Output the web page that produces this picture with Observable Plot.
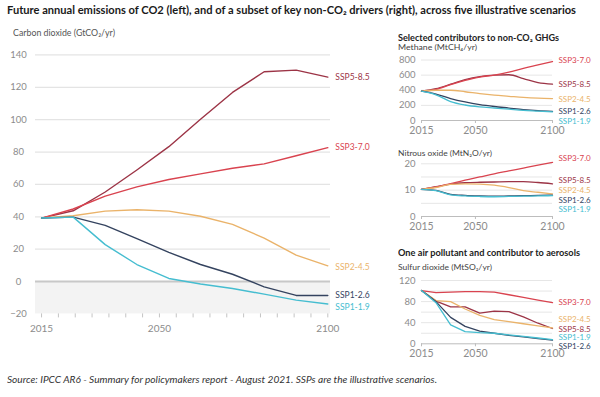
<!DOCTYPE html>
<html><head><meta charset="utf-8">
<script src="https://cdn.jsdelivr.net/npm/d3@7"></script>
<script src="https://cdn.jsdelivr.net/npm/@observablehq/plot@0.6"></script>
<style>
body{margin:0;background:#fff;}
#root{position:relative;width:600px;height:397px;overflow:hidden;font-family:Lato,"Noto Sans",sans-serif;}
.t{position:absolute;white-space:nowrap;line-height:1;transform-origin:0 50%;}
.p{position:absolute;}
</style></head><body><div id="root"></div>
<script>
// ---- categories ----
const scenarios = ["SSP1-1.9", "SSP1-2.6", "SSP2-4.5", "SSP3-7.0", "SSP5-8.5"];
const colors    = ["#45bdd0", "#34435f", "#eab36a", "#d9434f", "#9c3446"];
// model years, drawn evenly spaced in the reference (read positions)
const years = [2015, 2024.4, 2033.9, 2043.3, 2052.8, 2062.2, 2071.7, 2081.1, 2090.6, 2100];

// ---- CO2 (GtCO2/yr) ----
const co2_119 = [39.2, 39.8, 22.8, 10.5, 1.9, -1.5, -4.3, -7.8, -11.5, -13.9];
const co2_126 = [39.2, 39.8, 34.7, 26.5, 18.0, 10.5, 4.5, -3.3, -8.6, -8.6];
const co2_245 = [39.2, 40.6, 43.5, 44.3, 43.5, 40.3, 35.3, 26.8, 16.3, 9.7];
const co2_370 = [39.2, 44.8, 52.8, 58.5, 63.0, 66.5, 70.0, 72.7, 77.7, 82.7];
const co2_585 = [39.2, 43.7, 55.3, 68.9, 83.3, 100.3, 116.8, 129.6, 130.6, 126.3];

// ---- Methane (MtCH4/yr) ----
const ch4_119 = [388, 340, 250, 205, 180, 165, 150, 135, 125, 115];
const ch4_126 = [388, 350, 290, 245, 210, 185, 165, 145, 130, 120];
const ch4_245 = [388, 400, 400, 380, 355, 335, 320, 305, 295, 290];
const ch4_370 = [388, 410, 475, 530, 575, 600, 640, 690, 735, 780];
const ch4_585 = [388, 420, 480, 540, 580, 600, 605, 555, 500, 480];

// ---- Nitrous oxide (MtN2O/yr) ----
const n2o_119 = [10.3, 9.8, 8.2, 7.8, 7.6, 7.5, 7.6, 7.7, 7.8, 7.9];
const n2o_126 = [10.3, 9.9, 8.4, 8.0, 7.8, 7.7, 7.8, 7.9, 8.0, 8.1];
const n2o_245 = [10.3, 11.0, 12.2, 12.4, 12.3, 11.9, 11.0, 9.8, 9.2, 8.6];
const n2o_370 = [10.3, 11.2, 12.5, 13.8, 15.0, 16.2, 17.3, 18.4, 19.5, 20.5];
const n2o_585 = [10.3, 11.3, 12.3, 12.8, 13.0, 13.1, 13.2, 13.2, 12.9, 12.4];

// ---- Sulfur dioxide (MtSO2/yr) ----
const so2_119 = [101, 78, 36, 23, 21, 20, 17, 14, 11, 8];
const so2_126 = [101, 80, 50, 33, 24, 20, 16, 13, 10, 7];
const so2_245 = [101, 82, 80, 66, 54, 46, 42, 38, 34, 30];
const so2_370 = [101, 97, 98, 99, 99, 98, 93, 88, 83, 78];
const so2_585 = [101, 81, 70, 70, 58, 62, 61, 51, 39, 29];

// ---- tick labels ----
const co2Ticks = [-20, 0, 20, 40, 60, 80, 100, 120, 140];
const co2Grid = [20, 40, 60, 80, 100, 120, 140];
const co2MinorYears = [2015,2020,2025,2030,2035,2040,2045,2050,2055,2060,2065,2070,2075,2080,2085,2090,2095,2100];
const yearLabels = [2015, 2050, 2100];
const ch4Ticks = [0, 200, 400, 600, 800];
const ch4Grid = [200, 400, 600, 800];
const n2oTicks = [0, 10, 20];
const n2oGrid = [5, 10, 15, 20];
const so2Ticks = [0, 40, 80, 120];
const so2Grid = [20, 40, 60, 80, 100, 120];

function rows(series) {
  return scenarios.flatMap((s, i) => years.map((yr, j) => ({scenario: s, year: yr, value: series[i][j]})));
}
const co2Rows = rows([co2_119, co2_126, co2_245, co2_370, co2_585]);
const ch4Rows = rows([ch4_119, ch4_126, ch4_245, ch4_370, ch4_585]);
const n2oRows = rows([n2o_119, n2o_126, n2o_245, n2o_370, n2o_585]);
const so2Rows = rows([so2_119, so2_126, so2_245, so2_370, so2_585]);

const root = document.getElementById("root");
const color = {domain: scenarios, range: colors};
const drawOrder = ["SSP5-8.5", "SSP3-7.0", "SSP2-4.5", "SSP1-2.6", "SSP1-1.9"];

function endLabels(data, offsets, dx, size) {
  return scenarios.map(s => Plot.text(data.filter(d => d.scenario === s && d.year === 2100), {
    x: "year", y: "value", text: "scenario", fill: "scenario",
    dx, dy: offsets[s], textAnchor: "start", fontSize: size
  }));
}
function lines(data, width, curve) {
  return drawOrder.map(s => Plot.line(data.filter(d => d.scenario === s), {
    x: "year", y: "value", stroke: "scenario", strokeWidth: width, curve
  }));
}

// ---- main CO2 chart ----
const xDom = [2013.2, 2100.8];
const band = [{lo: -20, hi: 0}];
const main = Plot.plot({
  width: 380, height: 300,
  marginLeft: 35, marginRight: 50, marginTop: 14.4, marginBottom: 26.6,
  x: {domain: xDom}, y: {domain: [-20, 140]}, color,
  style: {fontFamily: "Lato, sans-serif", fontSize: "9px", color: "#8c8c8c", background: "transparent", overflow: "visible"},
  marks: [
    Plot.rect(band, {x1: () => xDom[0], x2: () => xDom[1], y1: "lo", y2: "hi", fill: "#f3f3f3"}),
    Plot.gridY(co2Grid, {stroke: "#e4e4e4", strokeOpacity: 1, strokeWidth: 1.2}),
    Plot.ruleY([0], {stroke: "#c8c8c8", strokeWidth: 2}),
    Plot.axisY({ticks: co2Ticks, tickSize: 0, tickPadding: 17, textAnchor: "middle", fill: "#8c8c8c", fontSize: 9.5, label: null}),
    Plot.axisX({ticks: co2MinorYears, tickSize: 4, tickFormat: () => "", stroke: "#c4c4c4", label: null}),
    Plot.axisX({ticks: yearLabels, tickSize: 0, tickPadding: 11, tickFormat: d => String(d), fill: "#8c8c8c", fontSize: 10, label: null}),
    ...lines(co2Rows, 1.4, "linear"),
    ...endLabels(co2Rows, {"SSP5-8.5": 0, "SSP3-7.0": 0, "SSP2-4.5": 1, "SSP1-2.6": 0, "SSP1-1.9": 3}, 7.5, 8.5)
  ]
});
const mdiv = document.createElement("div");
mdiv.className = "p"; mdiv.style.left = "0px"; mdiv.style.top = "40px";
mdiv.appendChild(main); root.appendChild(mdiv);

// ---- small panels ----
function panel({data, top, height, mTop, mBottom, yDomain, ticks, grid, offsets, curve}) {
  const chart = Plot.plot({
    width: 220, height, marginLeft: 41, marginRight: 48, marginTop: mTop, marginBottom: mBottom,
    x: {domain: [2015, 2100]}, y: {domain: yDomain}, color,
    style: {fontFamily: "Lato, sans-serif", fontSize: "9px", color: "#8c8c8c", background: "transparent", overflow: "visible"},
    marks: [
      Plot.gridY(grid, {stroke: "#e6e6e6", strokeOpacity: 1, strokeWidth: 1}),
      Plot.ruleY([0], {stroke: "#bdbdbd", strokeWidth: 1}),
      Plot.axisY({ticks, tickSize: 0, tickPadding: 6, fill: "#8c8c8c", fontSize: 9.5, label: null}),
      Plot.axisX({ticks: yearLabels, tickSize: 3, tickPadding: 3, stroke: "#bdbdbd", tickFormat: d => String(d), fill: "#8c8c8c", fontSize: 10.5, label: null}),
      ...lines(data, 1.3, curve),
      ...endLabels(data, offsets, 6, 8)
    ]
  });
  const div = document.createElement("div");
  div.className = "p"; div.style.left = "380px"; div.style.top = top + "px";
  div.appendChild(chart); root.appendChild(div);
}
panel({data: ch4Rows, top: 52, height: 85, mTop: 7.5, mBottom: 17, yDomain: [0, 800], ticks: ch4Ticks, grid: ch4Grid, curve: "monotone-x",
  offsets: {"SSP3-7.0": -1, "SSP5-8.5": 0, "SSP2-4.5": 1, "SSP1-2.6": 0, "SSP1-1.9": 9.5}});
panel({data: n2oRows, top: 155, height: 80, mTop: 8.3, mBottom: 19, yDomain: [0, 20], ticks: n2oTicks, grid: n2oGrid, curve: "monotone-x",
  offsets: {"SSP3-7.0": -4, "SSP5-8.5": -3, "SSP2-4.5": -3, "SSP1-2.6": 5, "SSP1-1.9": 14}});
panel({data: so2Rows, top: 272, height: 89, mTop: 8, mBottom: 17.7, yDomain: [0, 120], ticks: so2Ticks, grid: so2Grid, curve: "linear",
  offsets: {"SSP3-7.0": 0, "SSP2-4.5": -8.5, "SSP5-8.5": 0.5, "SSP1-1.9": -2, "SSP1-2.6": 6}});

// ---- texts ----
function addText(str, x, yc, size, opts = {}) {
  const el = document.createElement("div");
  el.className = "t";
  el.textContent = str;
  el.style.left = x + "px";
  el.style.top = (yc - size / 2) + "px";
  el.style.fontSize = size + "px";
  el.style.height = size + "px";
  el.style.fontWeight = opts.bold ? "700" : "400";
  el.style.fontStyle = opts.italic ? "italic" : "normal";
  el.style.color = opts.color || "#333";
  root.appendChild(el);
  if (opts.w) {
    const w = el.getBoundingClientRect().width;
    el.style.transform = `scaleX(${opts.w / w})`;
  }
}
addText("Future annual emissions of CO2 (left), and of a subset of key non-CO₂ drivers (right), across five illustrative scenarios", 7, 10, 10.5, {bold: true, color: "#1a1a1a", w: 569});
addText("Carbon dioxide (GtCO₂/yr)", 13, 32, 9, {color: "#555", w: 102});
addText("Selected contributors to non-CO₂ GHGs", 398, 38, 8.8, {bold: true, color: "#222", w: 161});
addText("Methane (MtCH₄/yr)", 398, 47, 8.2, {color: "#444", w: 79});
addText("Nitrous oxide (MtN₂O/yr)", 398, 153, 8.2, {color: "#444", w: 94});
addText("One air pollutant and contributor to aerosols", 398, 253, 8.8, {bold: true, color: "#222", w: 182});
addText("Sulfur dioxide (MtSO₂/yr)", 398, 267, 8.2, {color: "#444", w: 94});
addText("Source: IPCC AR6 - Summary for policymakers report - August 2021. SSPs are the illustrative scenarios.", 7, 379, 9, {italic: true, color: "#333", w: 430});
</script></body></html>
